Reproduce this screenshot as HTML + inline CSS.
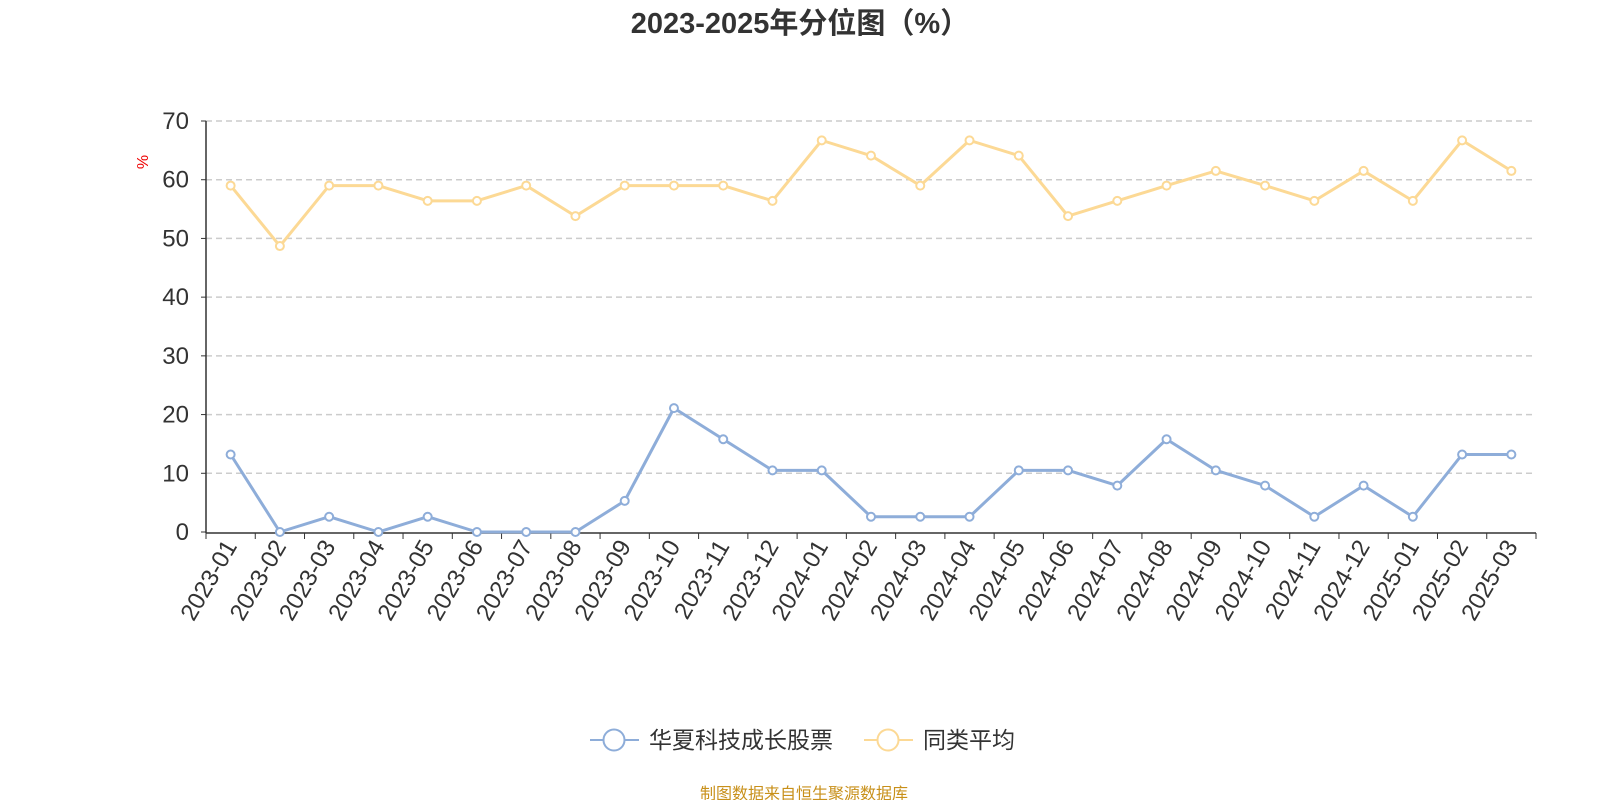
<!DOCTYPE html>
<html><head><meta charset="utf-8"><style>
body{margin:0;background:#fff;width:1600px;height:800px;overflow:hidden;font-family:"Liberation Sans","Noto Sans CJK SC",sans-serif}
</style></head><body>
<svg id="chart" width="1600" height="800" xmlns="http://www.w3.org/2000/svg" font-family="'Liberation Sans','Noto Sans CJK SC',sans-serif">
<text x="800" y="33" text-anchor="middle" font-size="29" font-weight="bold" fill="#333">2023-2025年分位图（%）</text>
<text x="148" y="162" font-size="16" fill="#e00" transform="rotate(-90 148 162)" text-anchor="middle">%</text>
<g id="grid"></g><g id="axes"></g><g id="series"></g>
<g>
<g>
<line x1="590" y1="740" x2="639" y2="740" stroke="#8eadd9" stroke-width="2"/>
<circle cx="614" cy="740" r="10.5" fill="#fff" stroke="#8eadd9" stroke-width="2"/>
<text x="649" y="748" font-size="23" fill="#333">华夏科技成长股票</text></g>
<g>
<line x1="864" y1="740" x2="913" y2="740" stroke="#fcd995" stroke-width="2"/>
<circle cx="888" cy="740" r="10.5" fill="#fff" stroke="#fcd995" stroke-width="2"/>
<text x="923" y="748" font-size="23" fill="#333">同类平均</text></g>
</g>
<text x="804" y="799" text-anchor="middle" font-size="16" fill="#c8901a">制图数据来自恒生聚源数据库</text>
</svg>
<script>
const categories=["2023-01","2023-02","2023-03","2023-04","2023-05","2023-06","2023-07","2023-08","2023-09","2023-10","2023-11","2023-12","2024-01","2024-02","2024-03","2024-04","2024-05","2024-06","2024-07","2024-08","2024-09","2024-10","2024-11","2024-12","2025-01","2025-02","2025-03"];
const fundValues=[13.2,0,2.6,0,2.6,0,0,0,5.3,21.1,15.8,10.5,10.5,2.6,2.6,2.6,10.5,10.5,7.9,15.8,10.5,7.9,2.6,7.9,2.6,13.2,13.2];
const avgValues=[59,48.7,59,59,56.4,56.4,59,53.8,59,59,59,56.4,66.7,64.1,59,66.7,64.1,53.8,56.4,59,61.5,59,56.4,61.5,56.4,66.7,61.5];
const yTicks=[0,10,20,30,40,50,60,70];
const NS="http://www.w3.org/2000/svg";
const L=206,R=1536,T=121,B=532,yMax=70;
const bw=(R-L)/categories.length;
const x=i=>L+bw*(i+0.5);
const y=v=>B-(v/yMax)*(B-T);
function mk(tag,attrs,parent){const e=document.createElementNS(NS,tag);for(const k in attrs)e.setAttribute(k,attrs[k]);parent.appendChild(e);return e;}
const grid=document.getElementById('grid'),axes=document.getElementById('axes'),series=document.getElementById('series');
yTicks.forEach(t=>{
  if(t>0){const g=mk('line',{x1:L,x2:R,y1:y(t),y2:y(t),stroke:'#ccc','stroke-dasharray':'6,4','stroke-width':1.5},grid);
  
  }
  const tl=mk('text',{x:189,y:y(t)+8,'text-anchor':'end','font-size':24,fill:'#333'},axes);
  tl.textContent=t;
  
  
  mk('line',{x1:201,x2:L,y1:y(t),y2:y(t),stroke:'#333'},axes);
});
const ya=mk('line',{x1:L,x2:L,y1:T,y2:B+1,stroke:'#333','stroke-width':1.5},axes);


const xa=mk('line',{x1:L,x2:R,y1:B+1,y2:B+1,stroke:'#333','stroke-width':1.5},axes);


for(let i=0;i<=categories.length;i++)mk('line',{x1:L+bw*i,x2:L+bw*i,y1:B+1,y2:B+7,stroke:'#333'},axes);
categories.forEach((c,i)=>{
  const tx=x(i)+7,ty=B+14;
  const t=mk('text',{x:tx,y:ty,'text-anchor':'end','font-size':24,fill:'#333',transform:`rotate(-60 ${tx} ${ty})`},axes);
  t.textContent=c;
  
  
});
function draw(vals,color,name){
  const p=mk('polyline',{points:vals.map((v,i)=>x(i)+','+y(v)).join(' '),fill:'none',stroke:color,'stroke-width':3,'stroke-linejoin':'round'},series);
  
  
  vals.forEach((v,i)=>{const c=mk('circle',{cx:x(i),cy:y(v),r:4,fill:'#fff',stroke:color,'stroke-width':2},series);
  
  });
}
draw(avgValues,'#fcd995','average');
draw(fundValues,'#8eadd9','fund');
</script>
</body></html>
